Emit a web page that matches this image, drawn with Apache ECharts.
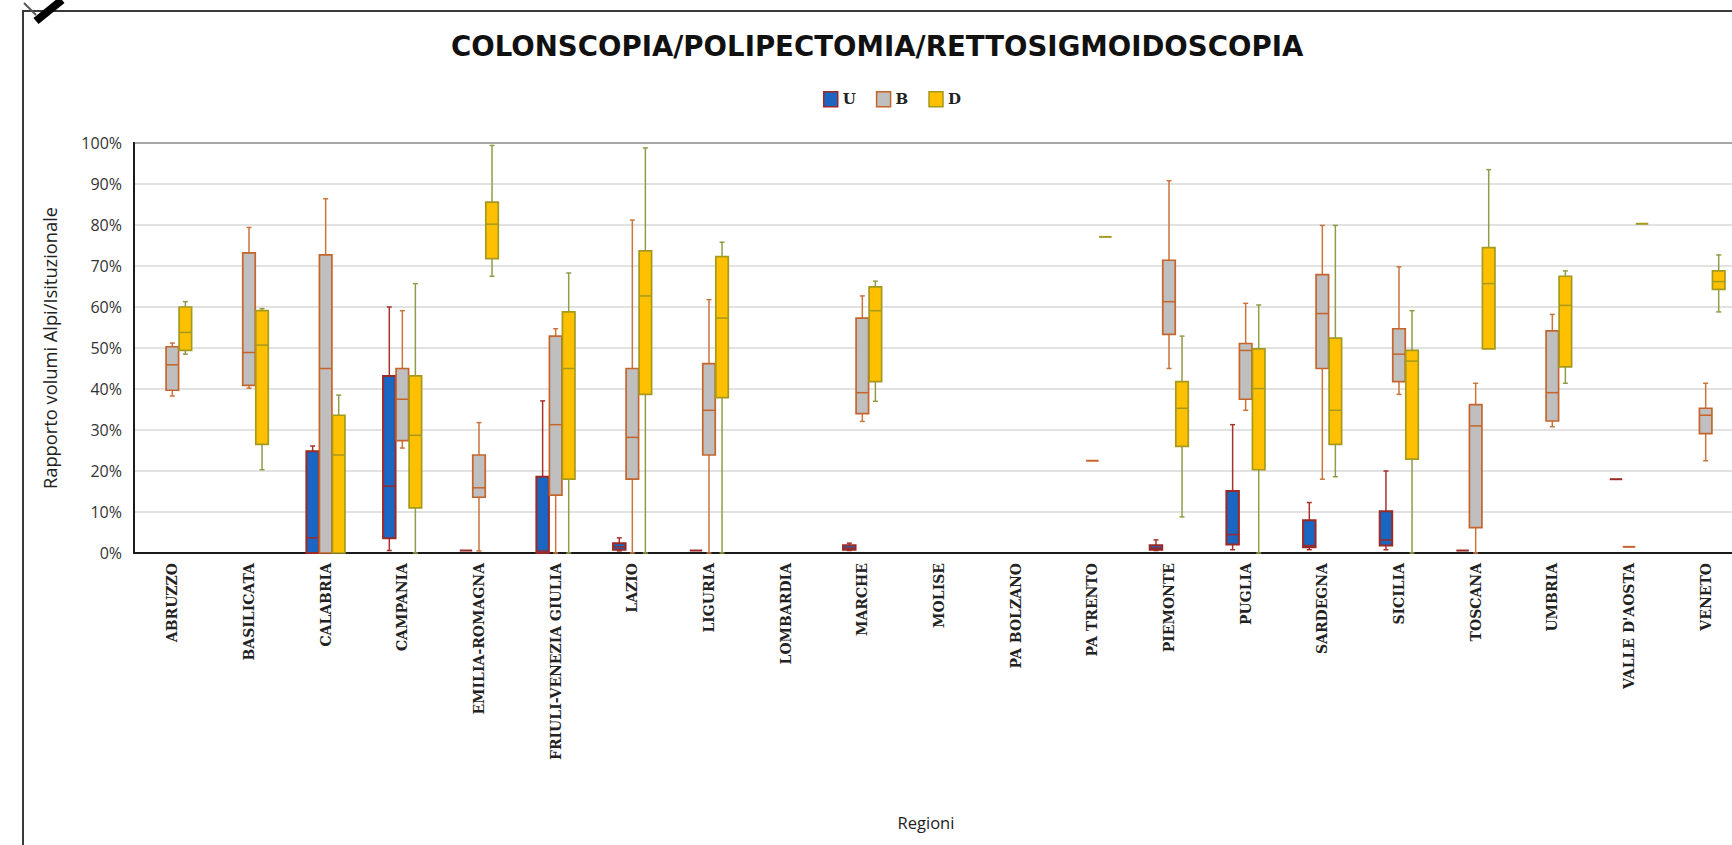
<!DOCTYPE html>
<html>
<head>
<meta charset="utf-8">
<script src="https://cdn.jsdelivr.net/npm/echarts@6/dist/echarts.min.js"></script>
<style>
html,body{margin:0;padding:0;background:#fff;}
#chart{width:1732px;height:845px;}
</style>
</head>
<body>
<div id="chart"></div>
<script>
// ---- data ----
const categories = ['ABRUZZO','BASILICATA','CALABRIA','CAMPANIA','EMILIA-ROMAGNA','FRIULI-VENEZIA GIULIA','LAZIO','LIGURIA','LOMBARDIA','MARCHE','MOLISE','PA BOLZANO','PA TRENTO','PIEMONTE','PUGLIA','SARDEGNA','SICILIA','TOSCANA','UMBRIA',"VALLE D'AOSTA",'VENETO'];
const yTicks = [0,10,20,30,40,50,60,70,80,90,100];
// [min, q1, median, q3, max] in percent, null = no data
const uStats = [
  null, null,
  [0, 0, 3.7, 24.8, 26.1],
  [0.6, 3.6, 16.3, 43.2, 60.0],
  [0.6, 0.6, 0.6, 0.6, 0.6],
  [0, 0, 0.5, 18.6, 37.1],
  [0.5, 0.8, 1.5, 2.4, 3.7],
  [0.6, 0.6, 0.6, 0.6, 0.6],
  null,
  [0.6, 0.8, 1.2, 1.9, 2.4],
  null, null, null,
  [0.6, 0.8, 1.2, 1.9, 3.2],
  [0.8, 2.1, 4.5, 15.1, 31.3],
  [0.8, 1.4, 1.8, 8.0, 12.3],
  [0.8, 1.8, 3.2, 10.2, 20.0],
  [0.6, 0.6, 0.6, 0.6, 0.6],
  null,
  [18, 18, 18, 18, 18],
  null
];
const bStats = [
  [38.3, 39.7, 45.9, 50.3, 51.2],
  [40.2, 40.9, 48.9, 73.2, 79.4],
  [0, 0, 45.0, 72.7, 86.4],
  [25.6, 27.4, 37.5, 45.0, 59.1],
  [0.5, 13.6, 15.9, 23.9, 31.8],
  [0, 14.1, 31.3, 52.9, 54.7],
  [0, 18.0, 28.2, 45.0, 81.2],
  [0, 23.9, 34.8, 46.2, 61.8],
  null,
  [32.1, 34.0, 39.1, 57.3, 62.7],
  null, null,
  [22.5, 22.5, 22.5, 22.5, 22.5],
  [45.0, 53.3, 61.3, 71.4, 90.8],
  [34.8, 37.5, 49.4, 51.1, 60.9],
  [18.0, 45.0, 58.4, 67.9, 79.9],
  [38.7, 41.8, 48.5, 54.7, 69.8],
  [0, 6.2, 31.0, 36.2, 41.4],
  [30.8, 32.2, 39.1, 54.2, 58.2],
  [1.5, 1.5, 1.5, 1.5, 1.5],
  [22.5, 29.1, 33.6, 35.3, 41.4]
];
const dStats = [
  [48.5, 49.4, 53.8, 60.0, 61.3],
  [20.3, 26.5, 50.7, 59.1, 59.6],
  [0, 0, 23.9, 33.6, 38.5],
  [0, 11.0, 28.7, 43.2, 65.7],
  [67.5, 71.8, 80.2, 85.6, 99.4],
  [0, 18.0, 45.0, 58.8, 68.3],
  [0, 38.7, 62.7, 73.7, 98.8],
  [0, 37.9, 57.3, 72.3, 75.8],
  null,
  [37.0, 41.8, 59.1, 64.9, 66.3],
  null, null,
  [77.1, 77.1, 77.1, 77.1, 77.1],
  [8.8, 26.0, 35.3, 41.8, 52.9],
  [0, 20.3, 40.1, 49.8, 60.5],
  [18.6, 26.5, 34.8, 52.4, 79.9],
  [0, 22.9, 46.8, 49.4, 59.1],
  [49.8, 49.8, 65.7, 74.5, 93.5],
  [41.4, 45.4, 60.4, 67.5, 68.8],
  [80.3, 80.3, 80.3, 80.3, 80.3],
  [58.8, 64.3, 66.2, 68.8, 72.7]
];
const seriesNames = ['U', 'B', 'D'];

// ---- styles ----
const styles = {
  U: {fill: '#1a66c2', stroke: '#9b2a26', whisker: '#a8322c', offset: -0.17, bw: 2},
  B: {fill: '#bfbfbf', stroke: '#c5652c', whisker: '#c8753e', offset: 0, bw: 1.7},
  D: {fill: '#ffc000', stroke: '#a39a1e', whisker: '#8f9c48', offset: 0.17, bw: 1.7}
};

function toData(stats) {
  return stats.map((s, i) => s ? [i].concat(s) : null).filter(Boolean);
}

function makeRender(st) {
  return function (params, api) {
    const cat = api.value(0);
    const mn = api.value(1), q1 = api.value(2), md = api.value(3), q3 = api.value(4), mx = api.value(5);
    const band = api.size([1, 0])[0];
    const cx = api.coord([cat, 0])[0] + st.offset * band;
    const w = band * 0.163;
    const y = v => api.coord([cat, v])[1];
    const cap = 2.5;
    const children = [];
    if (mx > q3) {
      children.push({type: 'line', shape: {x1: cx, y1: y(q3), x2: cx, y2: y(mx)}, style: {stroke: st.whisker, lineWidth: 1.5}});
      children.push({type: 'line', shape: {x1: cx - cap, y1: y(mx), x2: cx + cap, y2: y(mx)}, style: {stroke: st.whisker, lineWidth: 1.5}});
    }
    if (mn < q1) {
      children.push({type: 'line', shape: {x1: cx, y1: y(q1), x2: cx, y2: y(mn)}, style: {stroke: st.whisker, lineWidth: 1.5}});
      children.push({type: 'line', shape: {x1: cx - cap, y1: y(mn), x2: cx + cap, y2: y(mn)}, style: {stroke: st.whisker, lineWidth: 1.5}});
    }
    if (q3 > q1) {
      children.push({type: 'rect', shape: {x: cx - w / 2, y: y(q3), width: w, height: y(q1) - y(q3)},
        style: {fill: st.fill, stroke: st.stroke, lineWidth: st.bw}});
      children.push({type: 'line', shape: {x1: cx - w / 2, y1: y(md), x2: cx + w / 2, y2: y(md)}, style: {stroke: st.stroke, lineWidth: 1.5}});
    } else {
      children.push({type: 'line', shape: {x1: cx - w / 2, y1: y(md), x2: cx + w / 2, y2: y(md)}, style: {stroke: st.stroke, lineWidth: 2}});
    }
    return {type: 'group', children: children};
  };
}

const statsBySeries = {U: uStats, B: bStats, D: dStats};

const chart = echarts.init(document.getElementById('chart'), null, {renderer: 'svg'});
chart.setOption({
  backgroundColor: '#ffffff',
  animation: false,
  title: {
    text: 'COLONSCOPIA/POLIPECTOMIA/RETTOSIGMOIDOSCOPIA',
    left: 446, top: 27,
    textStyle: {fontFamily: 'DejaVu Sans', fontWeight: 'bold', fontSize: 27.6, color: '#111'}
  },
  legend: {
    left: 818, top: 86,
    icon: 'rect', itemWidth: 14, itemHeight: 15, itemGap: 20,
    textStyle: {fontFamily: 'DejaVu Serif', fontWeight: 'bold', fontSize: 15, color: '#222'},
    data: seriesNames.map(n => ({name: n, itemStyle: {color: styles[n].fill, borderColor: styles[n].stroke, borderWidth: 1.5}}))
  },
  grid: {
    left: 134, top: 143, bottom: 292, right: -12,
    outerBoundsMode: 'none',
    containLabel: false,
    show: true, borderColor: '#1a1a1a', borderWidth: 2
  },
  xAxis: {
    type: 'category',
    data: categories,
    boundaryGap: true,
    name: 'Regioni',
    nameLocation: 'middle',
    nameGap: 261,
    nameTextStyle: {fontFamily: 'Open Sans', fontSize: 16.5, color: '#222', padding: [0, 26, 0, 0]},
    axisLine: {show: true, lineStyle: {color: '#1a1a1a', width: 2}},
    axisTick: {show: false},
    axisLabel: {rotate: 90, margin: 10, interval: 0, fontFamily: 'DejaVu Serif', fontWeight: 'bold', fontSize: 14, color: '#222'},
    splitLine: {show: false}
  },
  yAxis: {
    type: 'value',
    min: yTicks[0], max: yTicks[yTicks.length - 1], interval: 10,
    name: 'Rapporto volumi Alpi/Isituzionale',
    nameLocation: 'middle',
    nameGap: 76,
    nameTextStyle: {fontFamily: 'Open Sans', fontSize: 18.3, color: '#222'},
    axisLine: {show: true, lineStyle: {color: '#1a1a1a', width: 2}},
    axisTick: {show: false},
    axisLabel: {margin: 12, formatter: '{value}%', fontFamily: 'Open Sans', fontSize: 16, color: '#333'},
    splitLine: {show: true, lineStyle: {color: '#d9d9d9', width: 1.5}}
  },
  graphic: [
    {type: 'rect', shape: {x: 23, y: 11, width: 1800, height: 900}, style: {fill: 'none', stroke: '#3a3a3a', lineWidth: 2}, z: -1},
    {type: 'line', shape: {x1: 36, y1: 21, x2: 62, y2: 0}, style: {stroke: '#000', lineWidth: 8}},
    {type: 'line', shape: {x1: 24, y1: 3, x2: 36, y2: 15}, style: {stroke: '#555', lineWidth: 2}}
  ],
  series: seriesNames.map(n => ({
    name: n,
    type: 'custom',
    renderItem: makeRender(styles[n]),
    itemStyle: {color: styles[n].fill, borderColor: styles[n].stroke},
    encode: {x: 0, y: [1, 2, 3, 4, 5]},
    data: toData(statsBySeries[n])
  }))
});
</script>
</body>
</html>
